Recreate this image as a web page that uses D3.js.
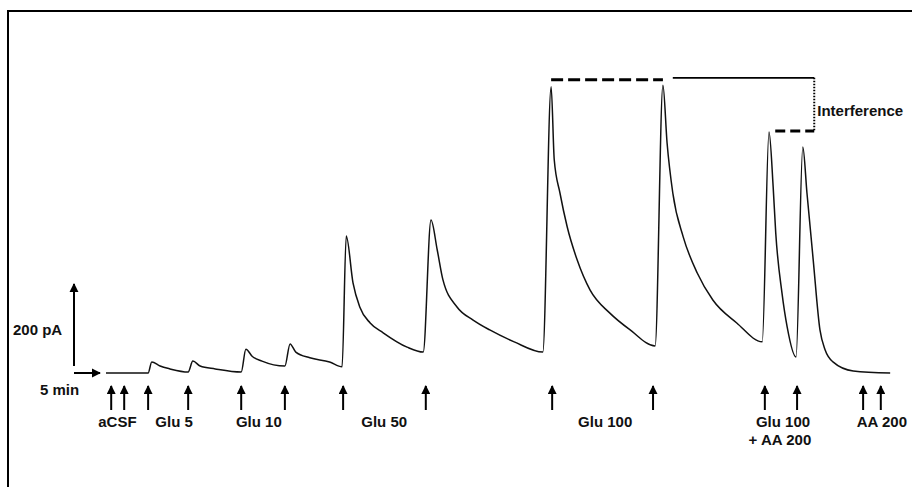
<!DOCTYPE html>
<html lang="en">
<head>
<meta charset="utf-8">
<title>Glutamate sensor trace</title>
<script src="https://cdn.jsdelivr.net/npm/d3@7"></script>
<style>
  body { margin: 0; background: #fff; }
  text { font-family: "Liberation Sans", Arial, sans-serif; font-weight: bold; fill: #111; }
</style>
</head>
<body>
<script>
// trace: time (min) and current (pA)
var traceTime = [0, 7.5, 8.1, 8.8, 10.4, 12.3, 15.8,
  16.7, 18.1, 21, 26,
  26.9, 28.1, 30, 34.4,
  35.4, 36.5, 39.2, 43, 45.4,
  46.2, 47.5, 48.8, 50.8, 53.3, 57.9, 61,
  62.5, 63.7, 64.8, 67.5, 70.6, 73.8, 78.5, 84,
  85.6, 86.2, 87.3, 88.7, 90.6, 93.1, 96.9, 100.8, 105.6,
  107.1, 107.9, 109, 111, 113.7, 116.7, 121.3, 126.2,
  127.5, 128.3, 128.8, 130, 131, 132.7,
  134, 134.8, 136, 137.3, 138.3, 139.8, 143.7, 150.8];
var traceCurrent = [0, 0, 0, 27, 17, 10, 2.4,
  29, 17, 10, 2.4,
  58, 41, 29, 17,
  71, 51, 37, 27, 15,
  334, 220, 161, 122, 98, 63, 51,
  373, 300, 227, 161, 129, 105, 76, 51,
  698, 520, 439, 356, 276, 202, 146, 105, 66,
  702, 561, 439, 332, 244, 178, 122, 76,
  588, 454, 341, 195, 112, 39,
  551, 439, 276, 105, 56, 27, 5, 0];

// application arrows (min) and labels
var arrowTimes = [1, 3.5, 8.1, 15.8, 26, 34.4, 45.6, 61.5, 85.8, 105.2, 126.7, 132.9, 145.6, 149];
var labelText = ["aCSF", "Glu 5", "Glu 10", "Glu 50", "Glu 100", "Glu 100", "+ AA 200", "AA 200"];
var labelTime = [2.2, 13.1, 29.4, 53.5, 96, 130.2, 129.6, 149.2];
var labelRow = [0, 0, 0, 0, 0, 0, 1, 0];

// interference bracket levels (pA)
var peakLevel = 715, topLevel = 720, lowLevel = 590;
var peakSpan = [85.6, 107.1];
var topSpan = [109, 136.2];
var lowSpan = [128.7, 136.2];

var w = 912, h = 487;
var svg = d3.select("body").append("svg").attr("width", w).attr("height", h);

var x = d3.scaleLinear().domain([0, 150]).range([106, 886]);
var y = d3.scaleLinear().domain([0, 700]).range([373, 86]);

// frame
svg.append("rect")
  .attr("x", 8).attr("y", 11)
  .attr("width", w).attr("height", h)
  .attr("fill", "none").attr("stroke", "#000").attr("stroke-width", 2);

var trace = traceTime.map(function(t, i) { return [t, traceCurrent[i]]; });
var line = d3.line()
  .x(function(d) { return x(d[0]); })
  .y(function(d) { return y(d[1]); })
  .curve(d3.curveMonotoneX);

svg.append("path")
  .attr("d", line(trace))
  .attr("fill", "none")
  .attr("stroke", "#111")
  .attr("stroke-width", 1.5);

// arrowheads
var defs = svg.append("defs");
defs.append("marker")
  .attr("id", "head")
  .attr("viewBox", "0 0 10 10")
  .attr("refX", 9).attr("refY", 5)
  .attr("markerWidth", 4.6).attr("markerHeight", 4.6)
  .attr("markerUnits", "strokeWidth")
  .attr("orient", "auto")
  .append("path").attr("d", "M0,0L10,5L0,10z").attr("fill", "#000");

// application arrows
svg.selectAll("line.stim")
  .data(arrowTimes)
  .enter().append("line")
  .attr("class", "stim")
  .attr("x1", function(d) { return x(d); })
  .attr("x2", function(d) { return x(d); })
  .attr("y1", 410).attr("y2", 386)
  .attr("stroke", "#000").attr("stroke-width", 2)
  .attr("marker-end", "url(#head)");

svg.selectAll("text.lab")
  .data(labelText)
  .enter().append("text")
  .attr("class", "lab")
  .attr("x", function(d, i) { return x(labelTime[i]); })
  .attr("y", function(d, i) { return 427 + labelRow[i] * 18; })
  .attr("text-anchor", "middle")
  .attr("font-size", 15)
  .text(function(d) { return d; });

// scale bars
var sx = 74, sy = 373;
svg.append("line")
  .attr("x1", sx).attr("x2", sx)
  .attr("y1", sy - 7).attr("y2", sy - 7 - (y(0) - y(200)))
  .attr("stroke", "#000").attr("stroke-width", 2)
  .attr("marker-end", "url(#head)");
svg.append("line")
  .attr("x1", sx).attr("x2", sx + (x(5) - x(0)))
  .attr("y1", sy).attr("y2", sy)
  .attr("stroke", "#000").attr("stroke-width", 2)
  .attr("marker-end", "url(#head)");
svg.append("text").attr("x", 13).attr("y", 335).attr("font-size", 15).text("200 pA");
svg.append("text").attr("x", 40).attr("y", 395).attr("font-size", 15).text("5 min");

// interference bracket
svg.append("line")
  .attr("x1", x(peakSpan[0])).attr("x2", x(peakSpan[1]))
  .attr("y1", y(peakLevel)).attr("y2", y(peakLevel))
  .attr("stroke", "#000").attr("stroke-width", 3)
  .attr("stroke-dasharray", "12,5");
svg.append("line")
  .attr("x1", x(topSpan[0])).attr("x2", x(topSpan[1]))
  .attr("y1", y(topLevel)).attr("y2", y(topLevel))
  .attr("stroke", "#000").attr("stroke-width", 1.8);
svg.append("line")
  .attr("x1", x(topSpan[1])).attr("x2", x(topSpan[1]))
  .attr("y1", y(topLevel)).attr("y2", y(lowLevel))
  .attr("stroke", "#000").attr("stroke-width", 2)
  .attr("stroke-dasharray", "1.5,1.5");
svg.append("line")
  .attr("x1", x(lowSpan[0])).attr("x2", x(lowSpan[1]))
  .attr("y1", y(lowLevel)).attr("y2", y(lowLevel))
  .attr("stroke", "#000").attr("stroke-width", 3)
  .attr("stroke-dasharray", "10,5");
svg.append("text")
  .attr("x", x(topSpan[1]) + 3).attr("y", 116)
  .attr("font-size", 15)
  .text("Interference");
</script>
</body>
</html>
